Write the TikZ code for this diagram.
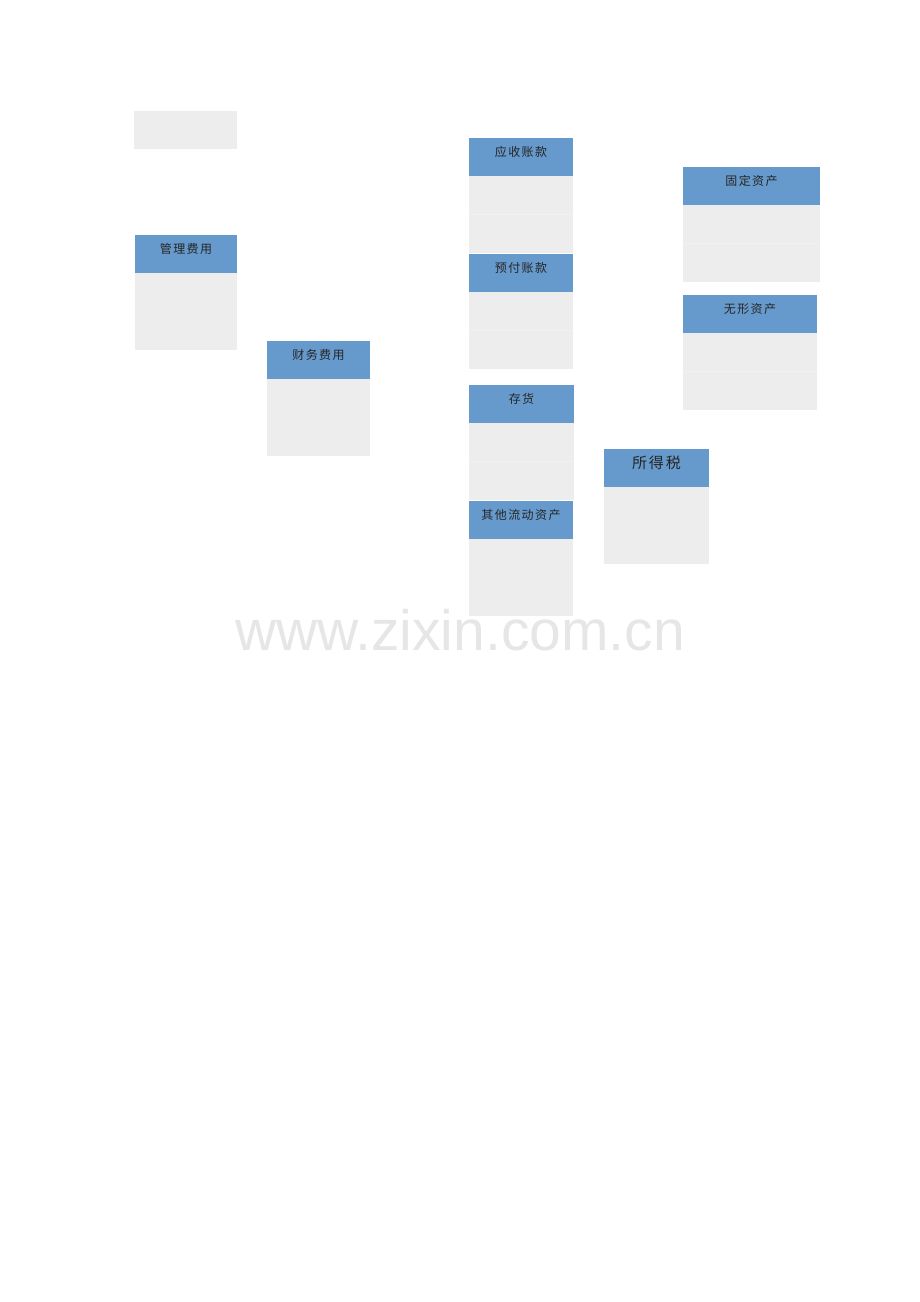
\documentclass[tikz,border=0pt]{standalone}
\usepackage{fontspec}
\setmainfont{Liberation Sans}
\newfontfamily\cjk[LetterSpace=12]{Noto Sans CJK SC}
\definecolor{hdr}{HTML}{6699CC}
\definecolor{bdy}{HTML}{EDEDED}
\definecolor{sep}{HTML}{F1F1F1}
\definecolor{wm}{HTML}{E6E6E6}
\tikzset{
  hdrbox/.style={fill=hdr, draw=none, inner sep=0pt, outer sep=0pt, anchor=north west},
  bdybox/.style={fill=bdy, draw=none, inner sep=0pt, outer sep=0pt, anchor=north west},
  lbl/.style={inner sep=0pt, font=\cjk\fontsize{12}{12}\selectfont, text=black!85},
  biglbl/.style={inner sep=0pt, font=\cjk\fontsize{15}{15}\selectfont, text=black!85},
  sepline/.style={draw=sep, line width=0.6pt},
  nosep/.style={draw=bdy, line width=0.6pt}
}
% name, x1, width, ytop, label, labelstyle, separator style
\newcommand\acctbox[7]{%
  \node[hdrbox, minimum width=#3pt, minimum height=38pt] (#1h) at (#2,#4) {};
  \node[bdybox, minimum width=#3pt, minimum height=77pt] (#1b) at (#2,#4+38) {};
  \node[#6] (#1) at ({#2+#3/2},{#4+14}) {#5};
  \draw[#7] ([yshift=0.5pt]#1b.west) -- ([yshift=0.5pt]#1b.east);
}
\begin{document}
\begin{tikzpicture}[x=1pt,y=-1pt]
\useasboundingbox (0,0) rectangle (920,1302);
% top-left blank box
\node[bdybox, minimum width=103pt, minimum height=38pt] (blank) at (134,111) {};
\acctbox{glfy}{135}{102}{235}{管理费用}{lbl}{nosep}
\acctbox{cwfy}{267}{103}{341}{财务费用}{lbl}{nosep}
\acctbox{yszk}{469}{104}{138}{应收账款}{lbl}{sepline}
\acctbox{yfzk}{469}{104}{254}{预付账款}{lbl}{sepline}
\acctbox{ch}{469}{105}{385}{存货}{lbl}{sepline}
\acctbox{qtld}{469}{104}{501}{其他流动资产}{lbl}{nosep}
\acctbox{sds}{604}{105}{449}{所得税}{biglbl}{nosep}
\acctbox{gdzc}{683}{137}{167}{固定资产}{lbl}{sepline}
\acctbox{wxzc}{683}{134}{295}{无形资产}{lbl}{sepline}
% watermark
\node[inner sep=0pt, text=wm, font=\fontsize{57}{57}\selectfont, anchor=base] (wmark) at (460,650) {www.zixin.com.cn};
\end{tikzpicture}
\end{document}
